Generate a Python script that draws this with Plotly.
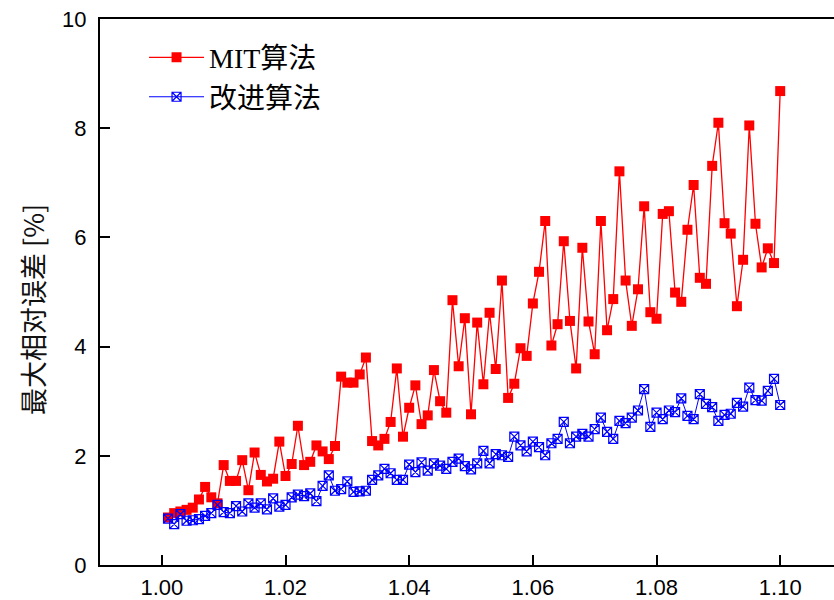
import plotly.graph_objects as go

x_vals = [round(1.0 + 0.001 * i, 3) for i in range(1, 101)]

mit_err = [0.87, 0.95, 0.98, 1.01, 1.05, 1.20, 1.43, 1.24, 1.13, 1.83,
           1.54, 1.54, 1.92, 1.37, 2.06, 1.65, 1.53, 1.58, 2.26, 1.63,
           1.85, 2.55, 1.83, 1.89, 2.19, 2.08, 1.94, 2.18, 3.45, 3.34,
           3.34, 3.49, 3.80, 2.27, 2.19, 2.31, 2.62, 3.60, 2.35, 2.88,
           3.29, 2.58, 2.74, 3.57, 3.00, 2.79, 4.85, 3.64, 4.52, 2.76,
           4.44, 3.31, 4.62, 3.59, 5.21, 3.06, 3.32, 3.97, 3.83, 4.79,
           5.37, 6.30, 4.02, 4.41, 5.93, 4.47, 3.60, 5.81, 4.46, 3.86,
           6.30, 4.30, 4.87, 7.21, 5.21, 4.38, 5.05, 6.57, 4.63, 4.51,
           6.43, 6.48, 4.99, 4.82, 6.14, 6.96, 5.26, 5.15, 7.31, 8.10,
           6.26, 6.07, 4.74, 5.59, 8.05, 6.25, 5.45, 5.80, 5.53, 8.68]

improved_err = [0.85, 0.75, 0.93, 0.81, 0.82, 0.84, 0.90, 0.95, 1.10, 0.97,
                0.95, 1.08, 0.98, 1.13, 1.05, 1.13, 1.02, 1.22, 1.07, 1.10,
                1.24, 1.29, 1.26, 1.31, 1.17, 1.45, 1.64, 1.36, 1.39, 1.53,
                1.34, 1.35, 1.36, 1.56, 1.64, 1.76, 1.68, 1.56, 1.56, 1.84,
                1.70, 1.88, 1.73, 1.86, 1.82, 1.76, 1.89, 1.95, 1.81, 1.75,
                1.86, 2.09, 1.86, 2.03, 2.01, 1.98, 2.35, 2.19, 2.08, 2.26,
                2.16, 2.01, 2.23, 2.31, 2.62, 2.23, 2.35, 2.40, 2.35, 2.49,
                2.70, 2.44, 2.31, 2.64, 2.60, 2.70, 2.83, 3.22, 2.53, 2.79,
                2.67, 2.83, 2.80, 3.05, 2.73, 2.67, 3.13, 2.95, 2.89, 2.64,
                2.75, 2.77, 2.97, 2.90, 3.25, 3.02, 3.01, 3.19, 3.41, 2.93]

x_ticks = [1.00, 1.02, 1.04, 1.06, 1.08, 1.10]
x_tick_labels = ["1.00", "1.02", "1.04", "1.06", "1.08", "1.10"]
y_ticks = [0, 2, 4, 6, 8, 10]
y_title = "最大相对误差 [%]"

fig = go.Figure()
fig.add_trace(go.Scatter(
    x=x_vals, y=mit_err, mode="lines+markers", name="MIT算法",
    line=dict(color="#ff0000", width=1.3),
    marker=dict(symbol="square", size=10, color="#ff0000"),
))
fig.add_trace(go.Scatter(
    x=x_vals, y=improved_err, mode="lines+markers", name="改进算法",
    line=dict(color="#0000ff", width=1),
    marker=dict(symbol="square-x-open", size=9, color="#0000ff",
                line=dict(width=1.2, color="#0000ff")),
))

fig.update_layout(
    width=834, height=600,
    margin=dict(l=100, r=0, t=19, b=35),
    paper_bgcolor="white", plot_bgcolor="white",
    font=dict(family="Liberation Sans, Arial, sans-serif", color="black"),
    showlegend=True,
    legend=dict(
        x=0.06, y=0.975, xanchor="left", yanchor="top",
        bgcolor="rgba(0,0,0,0)", borderwidth=0,
        font=dict(family="Liberation Serif, Noto Sans CJK SC, serif", size=28, color="black"),
        itemwidth=55,
    ),
    xaxis=dict(
        range=[0.99, 1.1087],
        tickvals=x_ticks, ticktext=x_tick_labels,
        ticks="inside", ticklen=10, tickwidth=1.5, tickcolor="black",
        showline=True, linewidth=2, linecolor="black", mirror=True,
        showgrid=False, zeroline=False, automargin=False,
        ticklabelstandoff=2,
        tickfont=dict(size=22, family="Liberation Sans, Arial, sans-serif"),
    ),
    yaxis=dict(
        range=[0, 10],
        tickvals=y_ticks,
        ticks="inside", ticklen=10, tickwidth=1.5, tickcolor="black",
        showline=True, linewidth=2, linecolor="black", mirror=False,
        showgrid=False, zeroline=False, automargin=False,
        ticklabelstandoff=7,
        tickfont=dict(size=22, family="Liberation Sans, Arial, sans-serif"),
    ),
    annotations=[dict(
        text=y_title, textangle=-90, showarrow=False,
        xref="paper", yref="paper",
        x=(32 - 100) / 734, y=(565 - 310) / 546,
        xanchor="center", yanchor="middle",
        font=dict(size=27, family="Noto Sans CJK SC, sans-serif", color="#111111"),
    )],
)

fig.write_html("out.html", config={"displayModeBar": False},
               post_script="document.body.style.margin='0';document.body.style.overflow='hidden';")
